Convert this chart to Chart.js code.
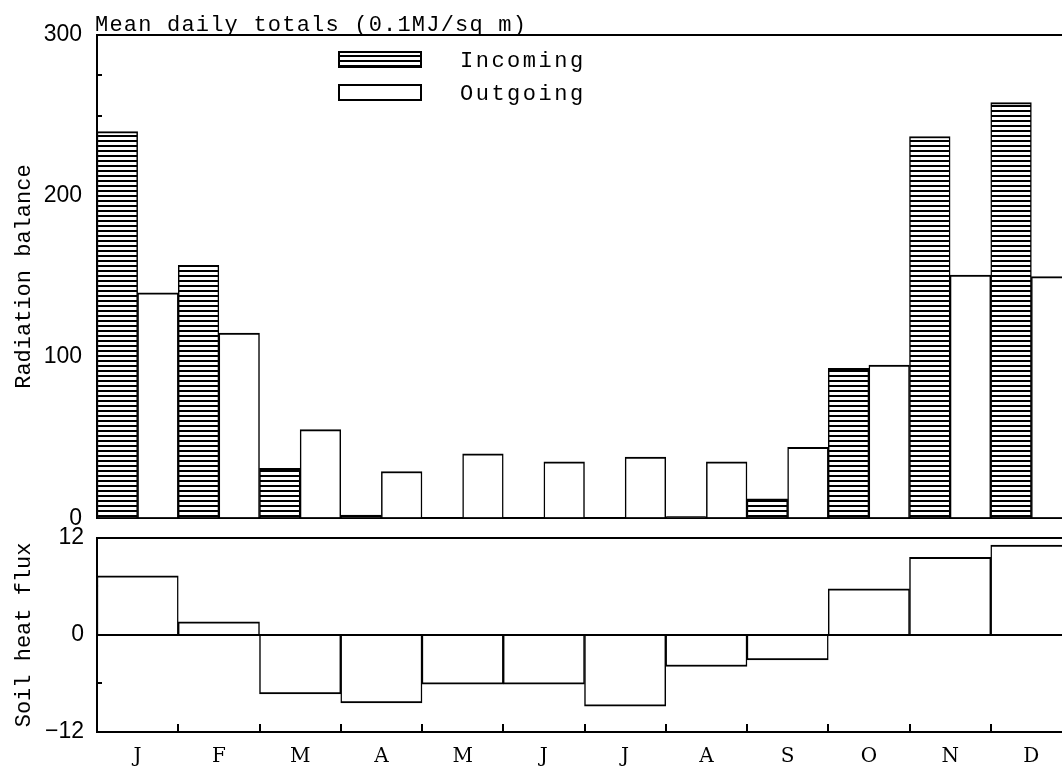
<!DOCTYPE html>
<html>
<head>
<meta charset="utf-8">
<script src="https://cdn.jsdelivr.net/npm/chart.js@4/dist/chart.umd.min.js"></script>
<style>
  html, body { margin: 0; padding: 0; background: #fff; overflow: hidden; }
  #wrap { position: relative; width: 1062px; height: 768px; overflow: hidden; }
  #wrap canvas { position: absolute; left: 0; }
  #balance { top: 0; }
  #soil { top: 506px; }
</style>
</head>
<body>
<div id="wrap">
  <canvas id="soil" width="1080" height="262"></canvas>
  <canvas id="balance" width="1080" height="552"></canvas>
</div>
<script>
// monthly means, 0.1 MJ/sq m per day
var months = ['J', 'F', 'M', 'A', 'M', 'J', 'J', 'A', 'S', 'O', 'N', 'D'];
var incoming = [240, 157, 31, 2, 0, 0, 0, 1, 12, 93, 237, 258];
var outgoing = [140, 115, 55, 29, 40, 35, 38, 35, 44, 95, 151, 150];
var soilFlux = [7.3, 1.6, -7.3, -8.4, -6.1, -6.1, -8.8, -3.9, -3.1, 5.7, 9.6, 11.1];
var balanceLabels = [0, 100, 200, 300];
var soilLabels = [-12, 0, 12];

var mono = '"Liberation Mono", "DejaVu Sans Mono", monospace';
var numFont = { family: '"Liberation Sans", Arial, sans-serif', size: 23 };
var black = '#000';
var clear = 'rgba(0,0,0,0)';

// horizontal line shading for the incoming bars
function hatchPattern(ctx) {
  var c = document.createElement('canvas');
  c.width = 8; c.height = 5;
  var g = c.getContext('2d');
  g.fillStyle = '#fff';
  g.fillRect(0, 0, 8, 5);
  g.fillStyle = black;
  g.fillRect(0, 0, 8, 2);
  return ctx.createPattern(c, 'repeat');
}

var balanceCtx = document.getElementById('balance').getContext('2d');
var hatch = hatchPattern(balanceCtx);

// heading and key for the upper panel
var panelText = {
  id: 'panelText',
  afterDraw: function(chart) {
    var ctx = chart.ctx;
    ctx.save();
    ctx.fillStyle = black;
    ctx.font = '22px ' + mono;
    ctx.textBaseline = 'alphabetic';
    ctx.letterSpacing = '1.2px';
    ctx.fillText('Mean daily totals (0.1MJ/sq m)', 95, 31);
    ctx.letterSpacing = '2.5px';
    chart.data.datasets.forEach(function(ds, i) {
      var y = 51 + i * 33;
      ctx.fillStyle = ds.backgroundColor;
      ctx.fillRect(338, y, 84, 17);
      ctx.lineWidth = 2;
      ctx.strokeStyle = black;
      ctx.strokeRect(339, y + 1, 82, 15);
      ctx.fillStyle = black;
      ctx.fillText(ds.label, 460, y + 16);
    });
    ctx.restore();
  }
};

var barBorder = { top: 2, left: 1.5, right: 1.5, bottom: 2 };

new Chart(balanceCtx, {
  type: 'bar',
  data: {
    labels: months,
    datasets: [{
      label: 'Incoming',
      data: incoming,
      backgroundColor: hatch,
      borderColor: black,
      borderWidth: barBorder,
      categoryPercentage: 1,
      barPercentage: 1
    }, {
      label: 'Outgoing',
      data: outgoing,
      backgroundColor: '#fff',
      borderColor: black,
      borderWidth: barBorder,
      categoryPercentage: 1,
      barPercentage: 1
    }]
  },
  options: {
    responsive: false,
    animation: false,
    layout: { padding: { top: 35, right: 8, bottom: 12, left: 0 } },
    plugins: { legend: { display: false }, tooltip: { enabled: false } },
    scales: {
      x: {
        grid: { display: false },
        border: { display: true, color: black, width: 2 },
        ticks: { display: false },
        afterFit: function(s) { s.height = 0; }
      },
      y: {
        min: 0,
        max: 300,
        afterFit: function(s) { s.width = 97; },
        ticks: {
          stepSize: 25,
          autoSkip: false,
          padding: 20,
          color: black,
          font: numFont,
          callback: function(v) { return balanceLabels.indexOf(v) >= 0 ? String(v) : ''; }
        },
        grid: {
          color: function(c) { return c.tick && c.tick.value === 300 ? black : clear; },
          tickColor: black,
          tickLength: -5,
          lineWidth: 2
        },
        border: { display: true, color: black, width: 2 },
        title: {
          display: true,
          text: 'Radiation balance',
          color: black,
          font: { family: mono, size: 22 },
          padding: { top: 11, bottom: 0 }
        }
      }
    }
  },
  plugins: [panelText]
});

new Chart(document.getElementById('soil'), {
  type: 'bar',
  data: {
    labels: months,
    datasets: [{
      label: 'Soil heat flux',
      data: soilFlux,
      backgroundColor: '#fff',
      borderColor: black,
      borderWidth: barBorder,
      categoryPercentage: 1,
      barPercentage: 1
    }]
  },
  options: {
    responsive: false,
    animation: false,
    layout: { padding: { top: 18, right: 8, bottom: 0, left: 0 } },
    plugins: { legend: { display: false }, tooltip: { enabled: false } },
    scales: {
      x: {
        offset: true,
        afterFit: function(s) { s.height = 36; },
        grid: { offset: true, drawOnChartArea: false, tickColor: black, tickLength: -8, lineWidth: 2 },
        border: { display: true, color: black, width: 2 },
        ticks: {
          color: black,
          padding: 21,
          font: { family: '"DejaVu Serif", "Liberation Serif", serif', size: 20 }
        }
      },
      y: {
        min: -12,
        max: 12,
        afterFit: function(s) { s.width = 97; },
        ticks: {
          stepSize: 6,
          autoSkip: false,
          padding: 18,
          color: black,
          font: numFont,
          callback: function(v) {
            if (soilLabels.indexOf(v) < 0) return '';
            return v < 0 ? '\u2212' + Math.abs(v) : String(v);
          }
        },
        grid: {
          color: function(c) { return c.tick && (c.tick.value === 12 || c.tick.value === 0) ? black : clear; },
          tickColor: black,
          tickLength: -5,
          lineWidth: 2
        },
        border: { display: true, color: black, width: 2 },
        title: {
          display: true,
          text: 'Soil heat flux',
          color: black,
          font: { family: mono, size: 22 },
          padding: { top: 11, bottom: 0 }
        }
      }
    }
  }
});
</script>
</body>
</html>
